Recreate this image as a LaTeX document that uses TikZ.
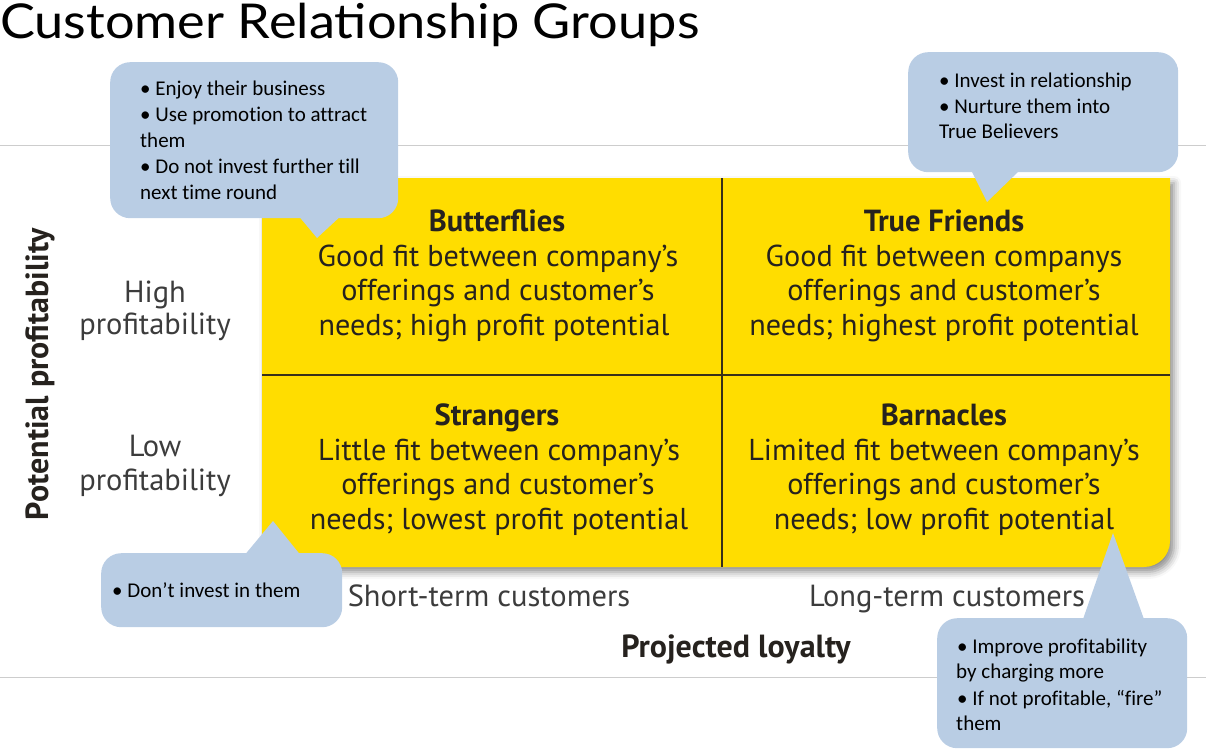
\documentclass[tikz,border=0pt]{standalone}
\usepackage{fontspec}
\setmainfont{PT Sans}
\newfontfamily\titlefont[FakeStretch=1.09]{Lato}
\newfontfamily\notefont[Ligatures=NoCommon]{Carlito}
\usetikzlibrary{shadows.blur}

\definecolor{quadyellow}{RGB}{255,221,0}
\definecolor{notefill}{RGB}{185,205,228}
\definecolor{rulegray}{RGB}{205,205,205}
\definecolor{inkdark}{RGB}{38,34,30}
\definecolor{inkgray}{RGB}{60,60,60}
\definecolor{divider}{RGB}{55,48,25}

\begin{document}
\begin{tikzpicture}[x=1pt,y=-1pt,
  quadhead/.style={anchor=base, inner sep=0pt, text=inkdark,
    font=\fontsize{30.5}{30.5}\selectfont\bfseries},
  quadline/.style={anchor=base, inner sep=0pt, text=inkdark,
    font=\fontsize{30.2}{30.2}\selectfont},
  axislevel/.style={anchor=base, inner sep=0pt, text=inkgray,
    font=\fontsize{30.5}{30.5}\selectfont},
  axistitle/.style={anchor=base, inner sep=0pt, text=inkdark,
    font=\fontsize{32}{32}\selectfont\bfseries},
  notebox/.style={anchor=north west, fill=notefill, rounded corners=20pt,
    inner sep=0pt},
  notetip/.style={fill=notefill},
  noteline/.style={anchor=base west, inner sep=0pt, text=black,
    font=\notefont\fontsize{21}{21}\selectfont},
  rule/.style={draw=rulegray, line width=1pt},
  splitline/.style={draw=divider, line width=2.2pt}
]
\useasboundingbox (0,0) rectangle (1206,752);

% title
\node[anchor=base west, inner sep=0pt, font=\titlefont\fontsize{48}{48}\selectfont]
  (title) at (0,38) {Customer Relationship Groups};

% thin horizontal rules across the slide
\coordinate (r1a) at (0,145);   \coordinate (r1b) at (1206,145);
\coordinate (r2a) at (0,677);   \coordinate (r2b) at (1206,677);
\draw[rule] (r1a) -- (r1b);
\draw[rule] (r2a) -- (r2b);

% the yellow grid, square on the left, rounded on the right
\fill[quadyellow, blur shadow={shadow xshift=4pt, shadow yshift=-5pt,
      shadow blur radius=7pt, shadow opacity=45}]
  (500,567) -- (262,567) -- (262,178) -- (1170,178) [rounded corners=26pt]
  -- (1170,567) -- cycle;

\coordinate (vtop) at (722,178);  \coordinate (vbot) at (722,567);
\coordinate (hleft) at (262,375); \coordinate (hright) at (1170,375);
\draw[splitline] (vtop) -- (vbot);
\draw[splitline] (hleft) -- (hright);

% quadrant texts
\node[quadhead] (bf) at (497,231) {Butterflies};
\node[quadline] (bf1) at (498,266) {Good fit between company’s};
\node[quadline] (bf2) at (498,300) {offerings and customer’s};
\node[quadline] (bf3) at (494,335) {needs; high profit potential};

\node[quadhead] (tf) at (944,231) {True Friends};
\node[quadline] (tf1) at (944,266) {Good fit between companys};
\node[quadline] (tf2) at (944,300) {offerings and customer’s};
\node[quadline] (tf3) at (944,335) {needs; highest profit potential};

\node[quadhead] (st) at (497,425) {Strangers};
\node[quadline] (st1) at (499,460) {Little fit between company’s};
\node[quadline] (st2) at (498,494) {offerings and customer’s};
\node[quadline] (st3) at (499,529) {needs; lowest profit potential};

\node[quadhead] (bn) at (944,425) {Barnacles};
\node[quadline] (bn1) at (944,460) {Limited fit between company’s};
\node[quadline] (bn2) at (944,494) {offerings and customer’s};
\node[quadline] (bn3) at (944,529) {needs; low profit potential};

% axis labels
\node[axislevel] (hi1) at (155,302) {High};
\node[axislevel] (hi2) at (155,334) {profitability};
\node[axislevel] (lo1) at (155,456) {Low};
\node[axislevel] (lo2) at (155,490) {profitability};
\node[axistitle, rotate=90] (ytitle) at (48,374) {Potential profitability};

\node[axislevel] (short) at (489,606) {Short-term customers};
\node[axislevel] (long) at (947,606) {Long-term customers};
\node[axistitle] (xtitle) at (736,657) {Projected loyalty};

% callout: Butterflies
\node[notebox, minimum width=288pt, minimum height=156pt] (c1) at (110,62) {};
\fill[notetip] (297,214) -- (317,238) -- (343,214) -- cycle;
\node[noteline] (c1a) at (140,95)  {• Enjoy their business};
\node[noteline] (c1b) at (140,121) {• Use promotion to attract};
\node[noteline] (c1c) at (140,147) {them};
\node[noteline] (c1d) at (140,173) {• Do not invest further till};
\node[noteline] (c1e) at (140,199) {next time round};

% callout: True Friends
\node[notebox, minimum width=270pt, minimum height=120pt] (c2) at (908,52) {};
\fill[notetip] (970,168) -- (987,202) -- (1022,168) -- cycle;
\node[noteline] (c2a) at (939,87)  {• Invest in relationship};
\node[noteline] (c2b) at (939,113) {• Nurture them into};
\node[noteline] (c2c) at (939,138) {True Believers};

% callout: Strangers
\node[notebox, minimum width=241pt, minimum height=74pt] (c3) at (101,553) {};
\fill[notetip] (243,557) -- (273,521) -- (302,557) -- cycle;
\node[noteline] (c3a) at (112,597) {• Don’t invest in them};

% callout: Barnacles
\node[notebox, minimum width=250pt, minimum height=130pt] (c4) at (937,618) {};
\fill[notetip] (1082,622) -- (1113,533) -- (1145,622) -- cycle;
\node[noteline] (c4a) at (957,653) {• Improve profitability};
\node[noteline] (c4b) at (956,678) {by charging more};
\node[noteline] (c4c) at (957,705) {• If not profitable, “fire”};
\node[noteline] (c4d) at (956,730) {them};
\end{tikzpicture}
\end{document}
